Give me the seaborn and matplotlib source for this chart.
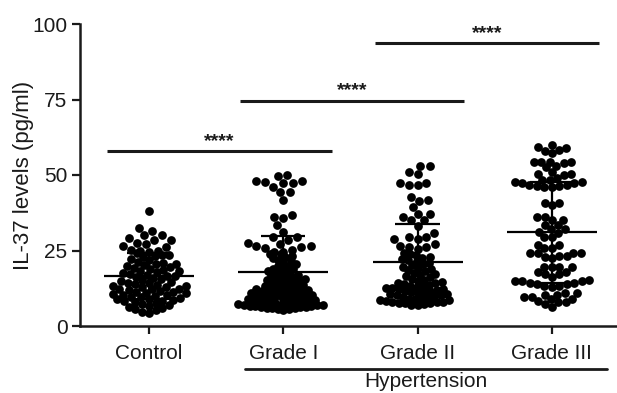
import numpy as np
import pandas as pd
import matplotlib
matplotlib.use("Agg")
import matplotlib.pyplot as plt
import seaborn as sns

categories = ["Control", "Grade I", "Grade II", "Grade III"]

control = [
    38.2,
    31.4, 32.4, 30.1, 29.1, 30.2,
    28.5, 27.6, 26.5, 26.1, 27.3, 28.6,
    25.2, 24.8, 24.6, 25.0, 24.1, 23.5, 23.2, 23.6, 22.9,
    22.2, 21.8, 21.3, 20.9, 20.6, 20.4, 20.1, 19.8, 19.5, 19.3, 19.0,
    18.6, 18.3, 18.1, 17.8, 17.5, 17.2, 17.0, 16.7, 16.4, 16.2, 15.9,
    15.5, 15.2, 14.9, 14.7, 14.4, 14.1, 13.8, 13.6, 13.3, 13.0, 12.8,
    12.4, 12.1, 11.9, 11.6, 11.3, 11.0, 10.8, 10.5, 10.2, 10.0, 9.7,
    9.3, 9.0, 8.7, 8.4, 8.2, 7.9, 7.6, 7.3, 7.0, 6.7, 6.4, 6.0, 5.6, 5.2, 4.8, 4.4,
    8.8, 9.5, 10.4, 11.1, 12.2, 13.1,
]

grade1 = [
    49.7, 48.1, 47.3, 46.1, 47.3, 47.8, 48.1, 50.0, 44.5, 44.5, 41.7,
    36.8, 35.9, 36.2, 33.4, 31.2, 29.6, 29.4,
    27.6, 26.5, 26.1, 25.2, 24.6, 24.6, 25.7, 26.5, 27.3, 28.6,
    20.4, 21.1, 21.8, 22.5, 23.2, 23.9, 24.0, 22.8, 21.5, 20.0,
    16.3, 16.8, 17.3, 17.8, 18.3, 18.8, 19.3, 19.8, 19.0, 18.0, 17.0, 16.0,
    13.2, 13.5, 13.8, 14.1, 14.4, 14.7, 15.0, 15.3, 15.6, 15.9, 15.5, 14.0,
    11.1, 11.3, 11.4, 11.6, 11.8, 11.9, 12.1, 12.3, 12.4, 12.6, 12.8, 12.9,
    9.0, 9.2, 9.3, 9.5, 9.6, 9.8, 9.9, 10.1, 10.2, 10.4, 10.5, 10.7, 10.8, 10.9,
    7.1, 7.2, 7.3, 7.5, 7.6, 7.7, 7.8, 8.0, 8.1, 8.2, 8.4, 8.5, 8.6, 8.8, 8.9,
    5.3, 5.5, 5.7, 5.8, 6.0, 6.1, 6.2, 6.3, 6.4, 6.5, 6.6, 6.7, 6.8, 6.9, 7.0,
]

grade2 = [
    53.0, 53.0, 50.3, 51.1, 47.5, 46.7, 46.7, 47.5, 41.7, 41.5,
    42.6, 39.5, 37.1, 35.1, 36.2, 37.1, 35.1, 33.1, 30.9,
    29.4, 28.7, 26.5, 26.1, 25.4, 26.1, 27.0, 28.7, 29.4,
    24.2, 23.8, 23.4, 23.0, 22.6, 22.2, 21.8, 21.4, 21.0,
    20.5, 20.1, 19.7, 19.3, 18.9, 18.5, 18.1, 17.7, 17.3,
    16.9, 16.5, 16.1, 15.7, 15.3, 15.0, 14.7, 14.4, 14.1, 13.8,
    13.5, 13.3, 13.1, 12.9, 12.7, 12.5, 12.3, 12.1, 11.9, 11.7, 11.5, 11.3,
    11.1, 10.9, 10.7, 10.5, 10.3, 10.1, 9.9, 9.7, 9.5, 9.3, 9.1, 8.9,
    8.7, 8.5, 8.3, 8.1, 7.9, 7.8, 7.7, 7.6, 7.5, 7.3, 7.1, 7.0,
]

grade3 = [
    58.3, 57.4, 59.9, 58.8, 59.4, 58.0,
    53.0, 51.1, 54.4, 54.4, 53.9, 54.4, 54.4, 52.5,
    50.3, 48.9, 50.3, 50.0,
    48.3, 47.8, 47.3, 46.8, 46.3, 46.0, 46.0, 46.3, 46.8, 47.3, 47.8, 48.3,
    40.6, 40.0, 40.6, 36.0, 36.2,
    35.1, 33.4, 32.0, 31.2, 30.8, 32.0, 33.4, 35.1, 29.4, 29.4,
    26.8, 25.7, 25.7, 26.8, 24.1, 24.2, 23.0, 22.4, 23.2, 23.2, 24.1, 24.2,
    19.6, 19.6, 18.0, 17.2, 16.3, 17.2, 18.0, 19.6, 19.6,
    15.2, 14.8, 14.3, 13.8, 13.4, 13.0, 13.4, 13.8, 14.3, 14.8, 15.0,
    10.8, 10.2, 9.6, 9.0, 8.4, 7.8, 6.4, 7.2, 8.0, 8.8, 9.6, 10.3, 10.8,
]

series = [control, grade1, grade2, grade3]

# significance comparisons
sig_x0 = [-0.315, 0.678, 1.68]
sig_x1 = [1.36, 2.345, 3.35]
sig_y = [57.9, 74.5, 93.6]
sig_label = ["****", "****", "****"]

y_ticks = [0, 25, 50, 75, 100]
y_label = "IL-37 levels (pg/ml)"
group_label = "Hypertension"

df = pd.DataFrame({
    "group": np.repeat(categories, [len(s) for s in series]),
    "value": np.concatenate([np.asarray(s, float) for s in series]),
})

# style: swarm layout footprint (points) for the dense lower band and the sparse
# upper band of each group, and the drawn dot size
band_split = 24.45
layout_dense = {"Control": 4.9, "Grade I": 3.9, "Grade II": 4.4, "Grade III": 5.2}
layout_sparse = {"Control": 6.2, "Grade I": 6.4, "Grade II": 6.2, "Grade III": 5.2}
dot_size = 6.3

sns.set_style("ticks")
plt.rcParams["font.family"] = ["Liberation Sans", "DejaVu Sans"]

fig = plt.figure(figsize=(6.17, 3.93), dpi=100)
ax = fig.add_axes([80 / 617, 67 / 393, 537 / 617, 302 / 393])
ax.set_xlim(-0.514, 3.485)
ax.set_ylim(0, 100)

# swarms laid out with a smaller footprint than the drawn dots so dense rows
# overlap, as in the GraphPad-style reference
n_before = len(ax.collections)
for g in categories:
    sub = df[df["group"] == g]
    for part, lay in ((sub[sub["value"] <= band_split], layout_dense[g]),
                      (sub[sub["value"] > band_split], layout_sparse[g])):
        sns.swarmplot(data=part, x="group", y="value", order=categories,
                      color="black", size=lay, linewidth=0, ax=ax, zorder=3,
                      warn_thresh=1.0)
ax.set_xlim(-0.514, 3.485)
ax.set_ylim(0, 100)
fig.canvas.draw()
for coll in ax.collections[n_before:]:
    if "draw" in coll.__dict__:
        del coll.draw
    coll.set_sizes([dot_size ** 2])

# mean and SD
for i, s in enumerate(series):
    arr = np.asarray(s, float)
    m = arr.mean()
    sd = arr.std(ddof=1)
    ax.hlines(m, i - 0.335, i + 0.335, color="black", lw=1.6, zorder=4)
    ax.vlines(i, m - sd, m + sd, color="black", lw=1.6, zorder=4)
    ax.hlines([m - sd, m + sd], i - 0.165, i + 0.165, color="black", lw=1.6, zorder=4)

# significance bars
for x0, x1, y, lab in zip(sig_x0, sig_x1, sig_y, sig_label):
    ax.plot([x0, x1], [y, y], color="#1a1a1a", lw=2.2, solid_capstyle="butt", clip_on=False)
    ax.text((x0 + x1) / 2, y + 1.8, lab, ha="center", va="baseline", fontsize=14,
            fontweight="bold", color="#1a1a1a")

ax.set_xlim(-0.514, 3.485)
ax.set_ylim(0, 100)
ax.set_yticks(y_ticks)
ax.set_xlabel("")
ax.set_ylabel(y_label, fontsize=16, color="#1a1a1a")
ax.yaxis.set_label_coords(-0.086, 0.5)
ax.tick_params(axis="both", labelsize=15, length=6, width=1.6, colors="#1a1a1a")
ax.tick_params(axis="x", pad=7)
ax.tick_params(axis="y", pad=3)
for sp in ["top", "right"]:
    ax.spines[sp].set_visible(False)
for sp in ["left", "bottom"]:
    ax.spines[sp].set_linewidth(1.8)
    ax.spines[sp].set_color("#1a1a1a")

# Hypertension grouping line
trans = ax.get_xaxis_transform()
ax.plot([0.715, 3.41], [-0.142, -0.142], transform=trans, color="#1a1a1a", lw=2.0,
        clip_on=False)
ax.text((0.715 + 3.41) / 2, -0.203, group_label, transform=trans, ha="center",
        va="baseline", fontsize=15, color="#1a1a1a")

fig.savefig("out.png", dpi=100)
